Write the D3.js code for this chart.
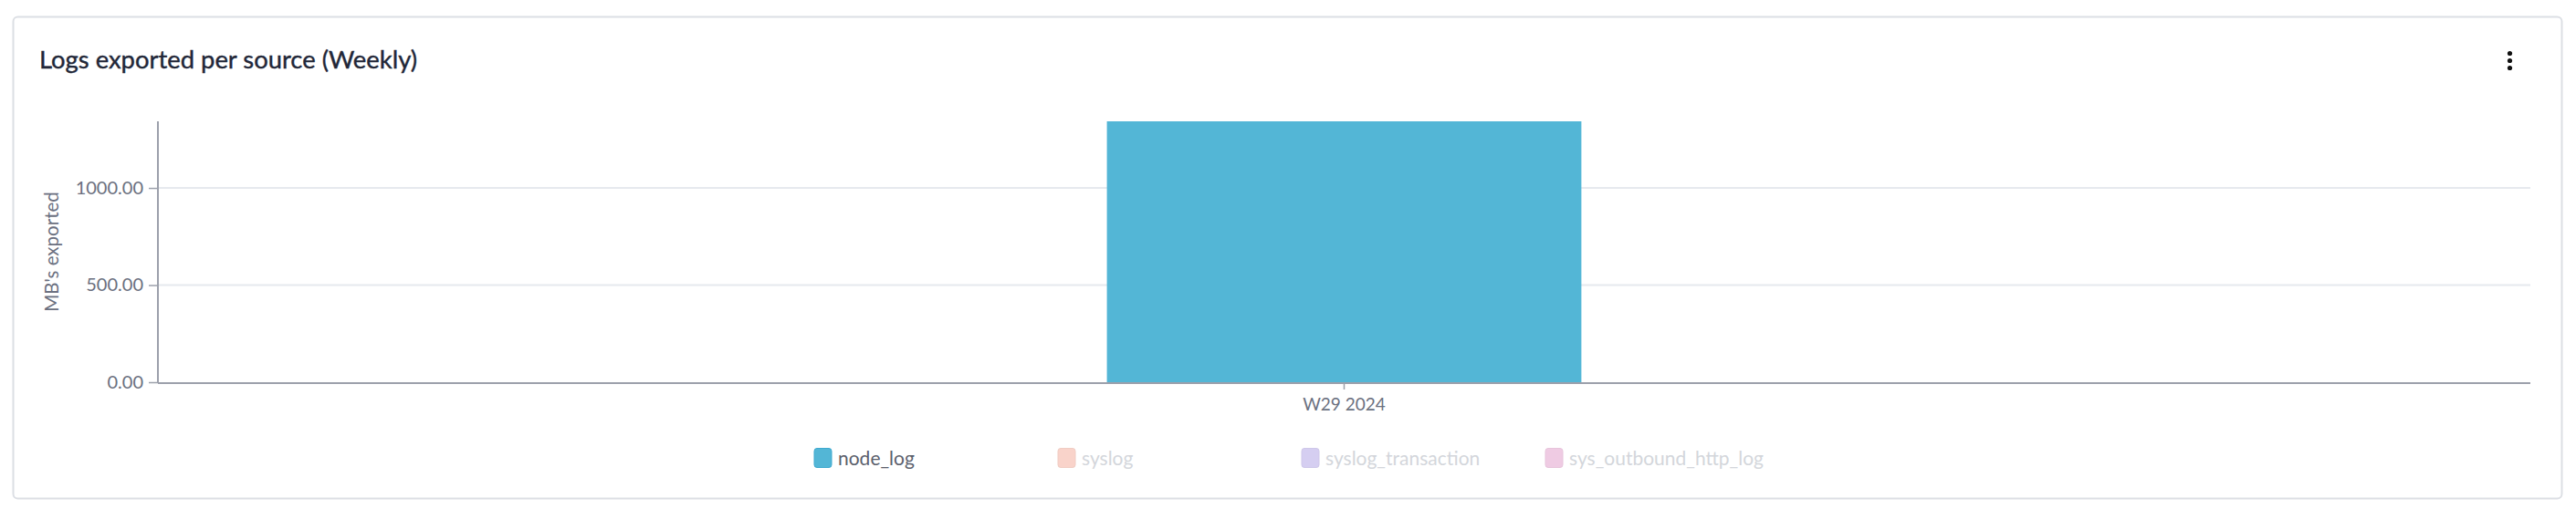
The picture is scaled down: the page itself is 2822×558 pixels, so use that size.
<!DOCTYPE html>
<html>
<head>
<meta charset="utf-8">
<script src="https://cdn.jsdelivr.net/npm/d3@7/dist/d3.min.js"></script>
<style>
  html, body { margin: 0; padding: 0; background: #ffffff; }
  svg { display: block; font-family: Lato, "Noto Sans", sans-serif; }
</style>
</head>
<body>
<svg id="chart" width="2822" height="558"></svg>
<script>
// ---- data ----
const titleText = "Logs exported per source (Weekly)";
const yAxisLabel = "MB's exported";
const categories = ["W29 2024"];
const seriesNames = ["node_log", "syslog", "syslog_transaction", "sys_outbound_http_log"];
const seriesColors = ["#53b6d6", "#f9d3ca", "#d5cef1", "#efcbe3"];
const seriesVisible = [true, false, false, false];
const nodeLogValues = [1343];
const syslogValues = [0];
const syslogTransactionValues = [0];
const sysOutboundHttpLogValues = [0];
const seriesValues = [nodeLogValues, syslogValues, syslogTransactionValues, sysOutboundHttpLogValues];
const yTickValues = [0, 500, 1000];

// ---- layout ----
const plot = { left: 173, right: 2772, top: 133, bottom: 419 };
const svg = d3.select("#chart");

// card
svg.append("rect")
  .attr("x", 14.5).attr("y", 18.5)
  .attr("width", 2806 - 14).attr("height", 546 - 18)
  .attr("rx", 5).attr("ry", 5)
  .attr("fill", "#ffffff").attr("stroke", "#dcdfe4").attr("stroke-width", 2);

// title
const titleEl = svg.append("text")
  .attr("x", 43).attr("y", 75)
  .attr("font-size", 27.5).attr("font-weight", 400)
  .attr("fill", "#222738")
  .attr("stroke", "#222738").attr("stroke-width", 0.4)
  .text(titleText);
// fit title to measured reference width
const tw = titleEl.node().getComputedTextLength();
titleEl.attr("textLength", 414).attr("lengthAdjust", "spacingAndGlyphs");

// kebab menu
[58.5, 66.5, 74.5].forEach(cy => {
  svg.append("circle").attr("cx", 2749.5).attr("cy", cy).attr("r", 2.6).attr("fill", "#111111");
});

// scales
const stackedMax = d3.max(categories.map((c, i) =>
  d3.sum(seriesValues.filter((s, k) => seriesVisible[k]).map(s => s[i]))));
const y = d3.scaleLinear().domain([0, stackedMax]).range([plot.bottom, plot.top]);
const x = d3.scaleBand().domain(categories).range([plot.left, plot.right]).padding(0);
const barFraction = 0.2;

// gridlines
const grid = svg.append("g");
grid.selectAll("line").data(yTickValues.filter(v => v > 0)).join("line")
  .attr("x1", plot.left).attr("x2", plot.right)
  .attr("y1", d => y(d)).attr("y2", d => y(d))
  .attr("stroke", "#e6e9ee").attr("stroke-width", 2);

// bars (stacked, visible series only)
const barsG = svg.append("g");
categories.forEach((cat, i) => {
  let base = 0;
  seriesValues.forEach((vals, k) => {
    if (!seriesVisible[k]) return;
    const v = vals[i];
    const bw = x.bandwidth() * barFraction;
    const bx = x(cat) + (x.bandwidth() - bw) / 2;
    barsG.append("rect")
      .attr("x", bx).attr("width", bw)
      .attr("y", y(base + v)).attr("height", y(base) - y(base + v))
      .attr("fill", seriesColors[k]);
    base += v;
  });
});

// y axis
const yAxis = d3.axisLeft(y).tickValues(yTickValues).tickFormat(d3.format(".2f"))
  .tickSize(10).tickPadding(6);
const yG = svg.append("g").attr("transform", `translate(${plot.left},0)`).call(yAxis);
yG.select(".domain").remove();
yG.selectAll(".tick line").attr("stroke", "#9ca0ab").attr("stroke-width", 1.5);
yG.selectAll(".tick text").attr("fill", "#6b7080").attr("font-size", 20)
  .attr("font-family", "Lato, 'Noto Sans', sans-serif");
svg.append("line")
  .attr("x1", plot.left).attr("x2", plot.left)
  .attr("y1", plot.top).attr("y2", plot.bottom + 1)
  .attr("stroke", "#9ca0ab").attr("stroke-width", 2);

// x axis
const xAxis = d3.axisBottom(x).tickSize(7).tickPadding(10);
const xG = svg.append("g").attr("transform", `translate(0,${plot.bottom + 1})`).call(xAxis);
xG.select(".domain").remove();
xG.selectAll(".tick line").attr("stroke", "#9ca0ab").attr("stroke-width", 1.5);
xG.selectAll(".tick text").attr("fill", "#6b7080").attr("font-size", 19)
  .attr("font-family", "Lato, 'Noto Sans', sans-serif");
svg.append("line")
  .attr("x1", plot.left).attr("x2", plot.right)
  .attr("y1", plot.bottom + 1).attr("y2", plot.bottom + 1)
  .attr("stroke", "#9ca0ab").attr("stroke-width", 2);

// y axis title
svg.append("text")
  .attr("transform", `translate(64,${(plot.top + plot.bottom) / 2}) rotate(-90)`)
  .attr("text-anchor", "middle")
  .attr("font-size", 20.5).attr("fill", "#6b7080")
  .text(yAxisLabel);

// legend
const legendX0 = 892, legendStep = 267, legendY = 502;
const lg = svg.append("g");
seriesNames.forEach((name, k) => {
  const gx = legendX0 + k * legendStep;
  lg.append("rect")
    .attr("x", gx).attr("y", legendY - 10.5)
    .attr("width", 19).attr("height", 21).attr("rx", 3)
    .attr("fill", seriesColors[k])
    .attr("stroke", seriesVisible[k] ? "#3ea9cf" : d3.color(seriesColors[k]).darker(0.1))
    .attr("stroke-width", 1);
  lg.append("text")
    .attr("x", gx + 26).attr("y", legendY + 7.5)
    .attr("font-size", 21)
    .attr("fill", seriesVisible[k] ? "#5b606c" : "#d3d6db")
    .text(name);
});
</script>
</body>
</html>
